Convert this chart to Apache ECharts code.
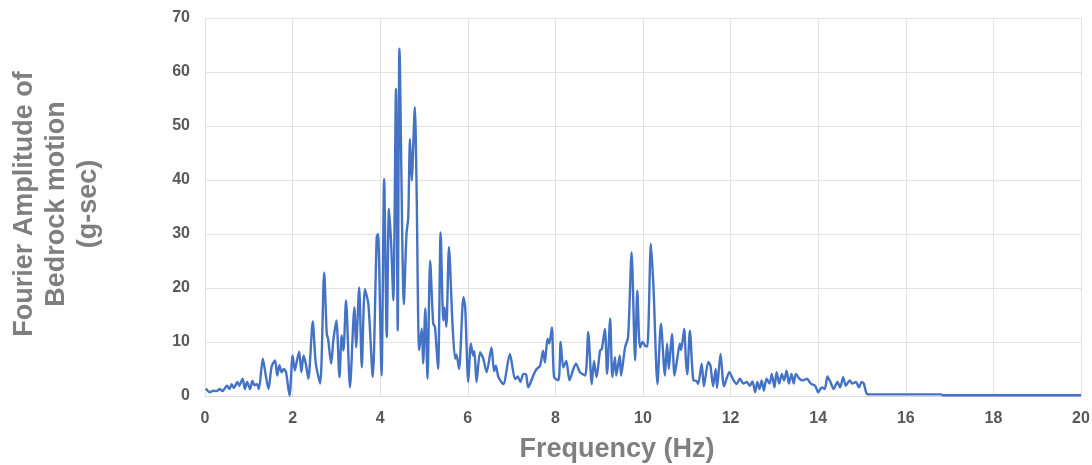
<!DOCTYPE html>
<html>
<head>
<meta charset="utf-8">
<script src="https://cdn.jsdelivr.net/npm/echarts@6/dist/echarts.min.js"></script>
<style>
  html, body { margin: 0; padding: 0; background: #ffffff; }
  #chart { width: 1092px; height: 465px; }
</style>
</head>
<body>
<div id="chart"></div>
<script>
// Frequency (Hz) values
const freq = [
  0.02, 0.11, 0.19, 0.26, 0.34, 0.40, 0.50, 0.56, 0.61, 0.66, 0.74, 0.78, 0.86, 0.91, 0.96,
  1.03, 1.08, 1.13, 1.19, 1.23, 1.32, 1.37, 1.45, 1.52, 1.60, 1.65, 1.70, 1.75, 1.80, 1.85, 1.93,
  2.00, 2.05, 2.10, 2.15, 2.20, 2.25, 2.30, 2.36, 2.46, 2.53, 2.63, 2.72, 2.78, 2.81, 2.88, 2.93,
  3.00, 3.07, 3.12, 3.16, 3.22, 3.31, 3.41, 3.45, 3.52, 3.58, 3.65, 3.73, 3.83, 3.92, 3.95,
  4.03, 4.09, 4.15, 4.20, 4.25, 4.30, 4.36, 4.40, 4.44, 4.54, 4.60, 4.64, 4.68, 4.72, 4.79, 4.83, 4.89, 4.95, 4.98,
  5.03, 5.08, 5.14, 5.21, 5.25, 5.32, 5.38, 5.44, 5.47, 5.51, 5.57, 5.65, 5.71, 5.74, 5.80, 5.90, 5.94,
  6.01, 6.07, 6.12, 6.15, 6.20, 6.28, 6.35, 6.43, 6.54, 6.60, 6.64, 6.70, 6.81, 6.96,
  7.08, 7.14, 7.20, 7.27, 7.33, 7.38, 7.50, 7.57, 7.65, 7.72, 7.76, 7.82, 7.86, 7.92, 7.97,
  8.07, 8.12, 8.18, 8.25, 8.32, 8.41, 8.47, 8.56, 8.68, 8.75, 8.83, 8.88, 8.94,
  9.02, 9.06, 9.13, 9.18, 9.25, 9.30, 9.36, 9.39, 9.47, 9.50, 9.59, 9.66, 9.74, 9.82, 9.87, 9.93, 9.99,
  10.05, 10.10, 10.18, 10.24, 10.33, 10.41, 10.50, 10.55, 10.59, 10.66, 10.72, 10.78, 10.84, 10.87, 10.94, 10.98,
  11.01, 11.07, 11.15, 11.22, 11.26, 11.34, 11.39, 11.49, 11.54, 11.60, 11.66, 11.69, 11.77, 11.85, 11.97,
  12.07, 12.14, 12.21, 12.29, 12.37, 12.44, 12.50, 12.56, 12.61, 12.66, 12.71, 12.76, 12.82, 12.89, 12.94,
  13.00, 13.05, 13.11, 13.17, 13.22, 13.28, 13.33, 13.39, 13.44, 13.49, 13.57, 13.66, 13.74, 13.83, 13.93,
  14.00, 14.08, 14.15, 14.21, 14.28, 14.35, 14.44, 14.50, 14.57, 14.63, 14.72, 14.78, 14.86, 14.93, 14.99,
  15.04, 15.11, 15.20, 16.80, 16.85, 20.00
];
// Fourier amplitude (g-sec) values
const amp = [
  1.4, 0.7, 1.0, 0.9, 1.3, 0.9, 1.9, 1.3, 2.2, 1.5, 2.6, 1.9, 3.2, 1.3, 2.6,
  1.3, 2.8, 2.0, 2.2, 1.3, 6.9, 4.7, 1.3, 5.4, 6.6, 3.8, 5.7, 4.4, 5.0, 4.4, 0.1,
  7.5, 4.7, 6.6, 8.2, 4.4, 7.5, 6.0, 3.2, 13.8, 6.0, 2.3, 22.9, 11.5, 10.6, 6.0, 10.3,
  14.0, 3.5, 11.2, 8.4, 17.7, 1.6, 16.4, 9.0, 20.1, 5.3, 19.8, 17.0, 3.5, 29.4, 30.0,
  3.8, 40.2, 10.9, 34.7, 28.2, 17.7, 56.9, 12.1, 64.3, 17.0, 30.0, 33.0, 47.6, 39.9, 53.5, 39.0, 8.5, 12.5, 6.0,
  16.2, 3.2, 25.0, 13.4, 12.8, 5.0, 30.3, 14.0, 16.4, 12.8, 27.6, 13.4, 6.9, 7.7, 5.0, 18.3, 16.5,
  2.6, 9.7, 7.5, 8.3, 2.6, 8.1, 7.0, 4.4, 9.0, 4.6, 5.6, 3.5, 2.2, 7.8,
  3.1, 3.6, 2.6, 4.1, 4.0, 1.6, 3.9, 5.0, 5.6, 8.4, 6.2, 10.6, 9.7, 12.7, 3.5,
  2.9, 10.0, 5.3, 6.5, 2.9, 5.0, 6.0, 4.4, 3.8, 11.8, 2.2, 6.5, 3.5,
  8.4, 8.7, 12.4, 4.1, 14.3, 3.5, 7.2, 3.8, 7.5, 3.8, 9.0, 10.9, 26.6, 6.6, 19.5, 9.0, 10.0,
  9.3, 9.2, 28.2, 20.0, 2.2, 13.4, 3.8, 9.7, 5.0, 11.5, 3.8, 6.8, 9.7, 8.5, 12.4, 6.5,
  4.0, 12.1, 2.9, 2.8, 2.2, 6.0, 1.8, 6.3, 5.6, 1.8, 5.0, 1.5, 7.8, 1.8, 4.4,
  2.9, 2.2, 3.2, 2.3, 2.6, 1.9, 2.7, 0.7, 2.6, 1.3, 2.9, 1.0, 3.2, 2.3, 4.1,
  1.6, 4.4, 2.3, 4.1, 2.9, 4.7, 2.3, 4.1, 2.3, 4.1, 3.2, 2.9, 3.2, 2.3, 1.9,
  0.7, 1.6, 1.3, 3.6, 2.6, 1.3, 2.6, 1.6, 3.5, 1.9, 2.9, 2.3, 2.6, 1.6, 2.6,
  2.3, 0.4, 0.3, 0.3, 0.15, 0.15
];
const xTitle = 'Frequency (Hz)';
const yTitle = 'Fourier Amplitude of\nBedrock motion\n(g-sec)';

const points = freq.map((f, i) => [f, amp[i]]);

const chart = echarts.init(document.getElementById('chart'), null, { renderer: 'canvas' });
const fontFam = '"Liberation Sans", Arial, sans-serif';
chart.setOption({
  animation: false,
  backgroundColor: '#ffffff',
  grid: { left: 205, right: 11, top: 18, bottom: 69, outerBoundsMode: 'none', containLabel: false },
  xAxis: {
    type: 'value', min: 0, max: 20, interval: 2,
    axisLine: { show: true, lineStyle: { color: '#d9d9d9', width: 1 } },
    axisTick: { show: false },
    splitLine: { show: true, lineStyle: { color: '#e3e3e3', width: 1 } },
    axisLabel: { color: '#595959', fontSize: 16, fontWeight: 'bold', fontFamily: fontFam, margin: 15 },
    name: xTitle, nameLocation: 'middle', nameGap: 40,
    nameTextStyle: { color: '#7f7f7f', fontSize: 27, fontWeight: 'bold', fontFamily: fontFam, padding: [0, 52, 0, 0] }
  },
  yAxis: {
    type: 'value', min: 0, max: 70, interval: 10,
    axisLine: { show: true, lineStyle: { color: '#e3e3e3', width: 1 } },
    axisTick: { show: false },
    splitLine: { show: true, lineStyle: { color: '#e3e3e3', width: 1 } },
    axisLabel: { color: '#595959', fontSize: 16, fontWeight: 'bold', fontFamily: fontFam, margin: 15 }
  },
  graphic: [{
    type: 'text',
    x: 57, y: 204,
    rotation: Math.PI / 2,
    style: {
      text: yTitle,
      fill: '#7f7f7f',
      font: 'bold 27px ' + fontFam,
      lineHeight: 32,
      align: 'center',
      verticalAlign: 'middle'
    }
  }],
  series: [{
    type: 'line',
    data: points,
    showSymbol: false,
    smooth: 0.25,
    lineStyle: { color: '#4472c4', width: 2.4 },
    itemStyle: { color: '#4472c4' }
  }]
});
</script>
</body>
</html>
